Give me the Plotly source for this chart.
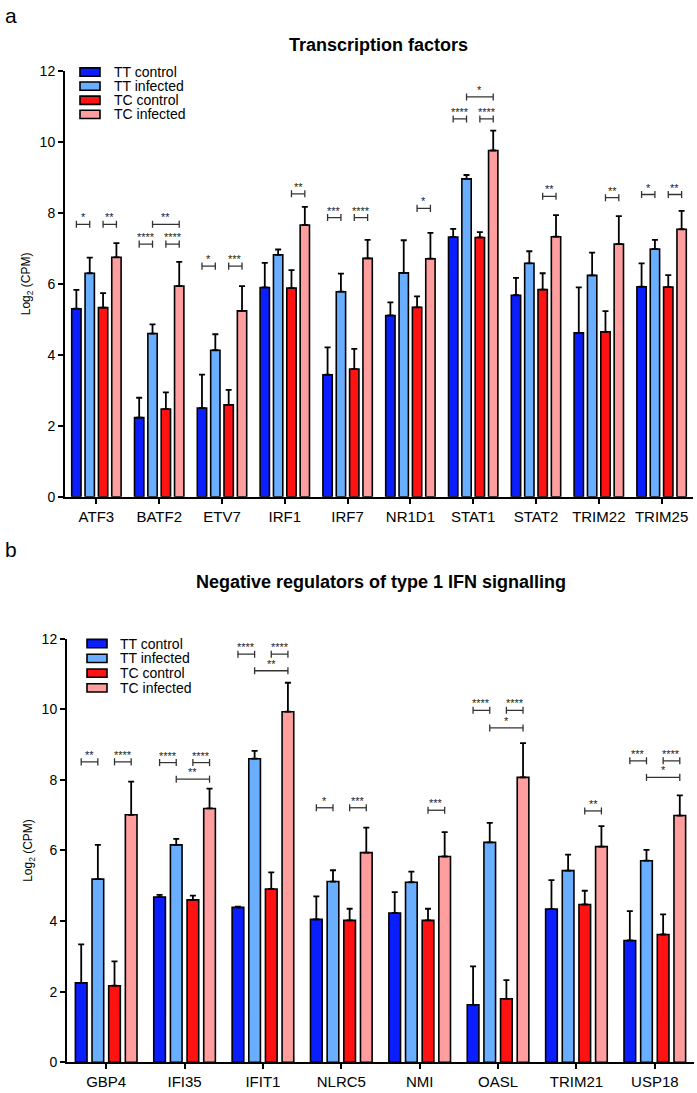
import plotly.graph_objects as go

# ---------------- data ----------------
series = ["TT control", "TT infected", "TC control", "TC infected"]
colors = ["#0A1EFF", "#6AAFFF", "#FF1212", "#FF9E9E"]

genes_a = ["ATF3", "BATF2", "ETV7", "IRF1", "IRF7", "NR1D1", "STAT1", "STAT2", "TRIM22", "TRIM25"]
tt_control_a = [5.30, 2.23, 2.50, 5.90, 3.44, 5.11, 7.32, 5.68, 4.62, 5.92]
tt_control_a_err = [0.53, 0.56, 0.94, 0.69, 0.77, 0.37, 0.23, 0.49, 1.28, 0.66]
tt_infected_a = [6.30, 4.60, 4.13, 6.82, 5.78, 6.31, 8.96, 6.58, 6.24, 6.98]
tt_infected_a_err = [0.44, 0.26, 0.45, 0.15, 0.51, 0.92, 0.11, 0.34, 0.64, 0.26]
tc_control_a = [5.33, 2.47, 2.59, 5.88, 3.60, 5.34, 7.31, 5.84, 4.65, 5.91]
tc_control_a_err = [0.41, 0.47, 0.42, 0.51, 0.57, 0.31, 0.15, 0.46, 0.58, 0.34]
tc_infected_a = [6.75, 5.94, 5.24, 7.66, 6.72, 6.71, 9.76, 7.33, 7.12, 7.54]
tc_infected_a_err = [0.40, 0.68, 0.70, 0.51, 0.52, 0.73, 0.56, 0.61, 0.79, 0.52]

genes_b = ["GBP4", "IFI35", "IFIT1", "NLRC5", "NMI", "OASL", "TRIM21", "USP18"]
tt_control_b = [2.25, 4.68, 4.39, 4.05, 4.23, 1.63, 4.34, 3.45]
tt_control_b_err = [1.09, 0.06, 0.02, 0.65, 0.59, 1.09, 0.82, 0.83]
tt_infected_b = [5.19, 6.16, 8.60, 5.12, 5.10, 6.23, 5.43, 5.71]
tt_infected_b_err = [0.97, 0.17, 0.22, 0.32, 0.30, 0.55, 0.45, 0.31]
tc_control_b = [2.17, 4.60, 4.91, 4.02, 4.02, 1.80, 4.47, 3.62]
tc_control_b_err = [0.69, 0.12, 0.47, 0.33, 0.33, 0.53, 0.39, 0.57]
tc_infected_b = [7.01, 7.19, 9.93, 5.94, 5.83, 8.07, 6.11, 6.99]
tc_infected_b_err = [0.94, 0.56, 0.82, 0.71, 0.69, 0.97, 0.58, 0.57]

# significance: (gene index, bar i, bar j, bracket level, label)
sig_a = [
    (0, 0, 1, 7.68, "*"), (0, 2, 3, 7.68, "**"),
    (1, 0, 1, 7.12, "****"), (1, 2, 3, 7.12, "****"), (1, 1, 3, 7.68, "**"),
    (2, 0, 1, 6.50, "*"), (2, 2, 3, 6.50, "***"),
    (3, 2, 3, 8.54, "**"),
    (4, 0, 1, 7.87, "***"), (4, 2, 3, 7.87, "****"),
    (5, 2, 3, 8.13, "*"),
    (6, 0, 1, 10.65, "****"), (6, 2, 3, 10.65, "****"), (6, 1, 3, 11.27, "*"),
    (7, 2, 3, 8.47, "**"),
    (8, 2, 3, 8.43, "**"),
    (9, 0, 1, 8.52, "*"), (9, 2, 3, 8.52, "**"),
]
sig_b = [
    (0, 0, 1, 8.51, "**"), (0, 2, 3, 8.51, "****"),
    (1, 0, 1, 8.49, "****"), (1, 2, 3, 8.49, "****"), (1, 1, 3, 8.02, "**"),
    (2, 0, 1, 11.56, "****"), (2, 2, 3, 11.56, "****"), (2, 1, 3, 11.09, "**"),
    (3, 0, 1, 7.21, "*"), (3, 2, 3, 7.21, "***"),
    (4, 2, 3, 7.14, "***"),
    (5, 0, 1, 9.97, "****"), (5, 2, 3, 9.97, "****"), (5, 1, 3, 9.47, "*"),
    (6, 2, 3, 7.12, "**"),
    (7, 0, 1, 8.54, "***"), (7, 2, 3, 8.54, "****"), (7, 1, 3, 8.07, "*"),
]

y_ticks = [0, 2, 4, 6, 8, 10, 12]

# ---------------- styling ----------------
W, H = 697, 1093
FONT = "Liberation Sans, Arial, Helvetica, sans-serif"
BARGAP = 0.15
BARGROUPGAP = 0.3


def px_x(p):
    return p / W


def px_y(p):
    return 1 - p / H


panels = [
    dict(genes=genes_a,
         vals=[tt_control_a, tt_infected_a, tc_control_a, tc_infected_a],
         errs=[tt_control_a_err, tt_infected_a_err, tc_control_a_err, tc_infected_a_err],
         sig=sig_a, xa="x", ya="y",
         xdom=[px_x(65), px_x(693)], ydom=[px_y(496), px_y(64)],
         title="Transcription factors", title_pos=(379, 38),
         letter="a", letter_pos=(3, 8),
         legend_pos=(80, 100, 112, 65, 14.3), cap=0.10),
    dict(genes=genes_b,
         vals=[tt_control_b, tt_infected_b, tc_control_b, tc_infected_b],
         errs=[tt_control_b_err, tt_infected_b_err, tc_control_b_err, tc_infected_b_err],
         sig=sig_b, xa="x2", ya="y2",
         xdom=[px_x(67), px_x(694)], ydom=[px_y(1070), px_y(640)],
         title="Negative regulators of type 1 IFN signalling", title_pos=(381, 583),
         letter="b", letter_pos=(3, 550),
         legend_pos=(87, 107, 118, 645, 15.0), cap=0.10),
]

fig = go.Figure()
shapes = []
annotations = []
layout_axes = {}

for pi, p in enumerate(panels):
    n = len(p["genes"])
    for k, name in enumerate(series):
        fig.add_trace(go.Bar(
            x=p["genes"], y=p["vals"][k], name=name,
            marker=dict(color=colors[k], line=dict(color="black", width=1.6)),
            error_y=dict(type="data", array=p["errs"][k], arrayminus=[0] * n,
                         symmetric=False, color="black", thickness=1.8, width=3),
            xaxis=p["xa"], yaxis=p["ya"], showlegend=False,
        ))
    suffix = "" if pi == 0 else "2"
    layout_axes["xaxis" + suffix] = dict(
        domain=p["xdom"], anchor=p["ya"], type="category",
        range=[-0.5, n - 0.5], showline=True, linecolor="black", linewidth=2,
        ticks="outside", ticklen=5, tickwidth=1.5, tickcolor="black",
        tickfont=dict(family=FONT, size=15, color="black"), showgrid=False,
        zeroline=False, fixedrange=True,
    )
    layout_axes["yaxis" + suffix] = dict(
        domain=p["ydom"], anchor=p["xa"], range=[0, 12],
        tickvals=y_ticks, ticktext=[str(t) for t in y_ticks],
        showline=True, linecolor="black", linewidth=2,
        ticks="outside", ticklen=5, tickwidth=2, tickcolor="black",
        tickfont=dict(family=FONT, size=14, color="black"), showgrid=False,
        zeroline=False, fixedrange=True,
        title=dict(text="Log<sub>2</sub> (CPM)", font=dict(family=FONT, size=12, color="black"),
                   standoff=6),
    )

    # significance brackets
    slot = (1 - BARGAP) / 4
    xref = p["xa"]
    yref = p["ya"]
    for gi, i, j, lvl, lab in p["sig"]:
        x0 = gi + (i - 1.5) * slot
        x1 = gi + (j - 1.5) * slot
        c = p["cap"]
        line = dict(color="#333333", width=1.3)
        shapes.append(dict(type="line", xref=xref, yref=yref, x0=x0, x1=x1, y0=lvl, y1=lvl, line=line))
        shapes.append(dict(type="line", xref=xref, yref=yref, x0=x0, x1=x0, y0=lvl - c, y1=lvl + c, line=line))
        shapes.append(dict(type="line", xref=xref, yref=yref, x0=x1, x1=x1, y0=lvl - c, y1=lvl + c, line=line))
        annotations.append(dict(text=lab, x=(x0 + x1) / 2, y=lvl, xref=xref, yref=yref,
                                xanchor="center", yanchor="bottom", showarrow=False, yshift=-1,
                                font=dict(family=FONT, size=11, color="#222222")))

    # title and panel letter
    annotations.append(dict(text="<b>" + p["title"] + "</b>", x=px_x(p["title_pos"][0]),
                            y=px_y(p["title_pos"][1]), xref="paper", yref="paper",
                            xanchor="center", yanchor="middle", showarrow=False,
                            font=dict(family=FONT, size=18, color="black")))
    annotations.append(dict(text=p["letter"], x=px_x(p["letter_pos"][0]),
                            y=px_y(p["letter_pos"][1]), xref="paper", yref="paper",
                            xanchor="left", yanchor="middle", showarrow=False,
                            font=dict(family=FONT, size=21, color="black")))

    # legend (drawn compactly as in the original)
    bx0, bx1, tx, ty0, step = p["legend_pos"]
    for k, name in enumerate(series):
        cy = ty0 + k * step
        shapes.append(dict(type="rect", xref="paper", yref="paper",
                           x0=px_x(bx0), x1=px_x(bx1), y0=px_y(cy + 4.2), y1=px_y(cy - 4.2),
                           fillcolor=colors[k], line=dict(color="black", width=1.6)))
        annotations.append(dict(text=name, x=px_x(tx), y=px_y(cy), xref="paper", yref="paper",
                                xanchor="left", yanchor="middle", showarrow=False,
                                font=dict(family=FONT, size=14, color="black")))

fig.update_layout(
    width=W, height=H, margin=dict(l=0, r=0, t=0, b=0),
    barmode="group", bargap=BARGAP, bargroupgap=BARGROUPGAP,
    plot_bgcolor="white", paper_bgcolor="white",
    font=dict(family=FONT, color="black"),
    shapes=shapes, annotations=annotations, showlegend=False,
    **layout_axes,
)

fig.write_html("out.html", config={"displayModeBar": False},
               post_script="document.body.style.margin='0';document.body.style.overflow='hidden';")
